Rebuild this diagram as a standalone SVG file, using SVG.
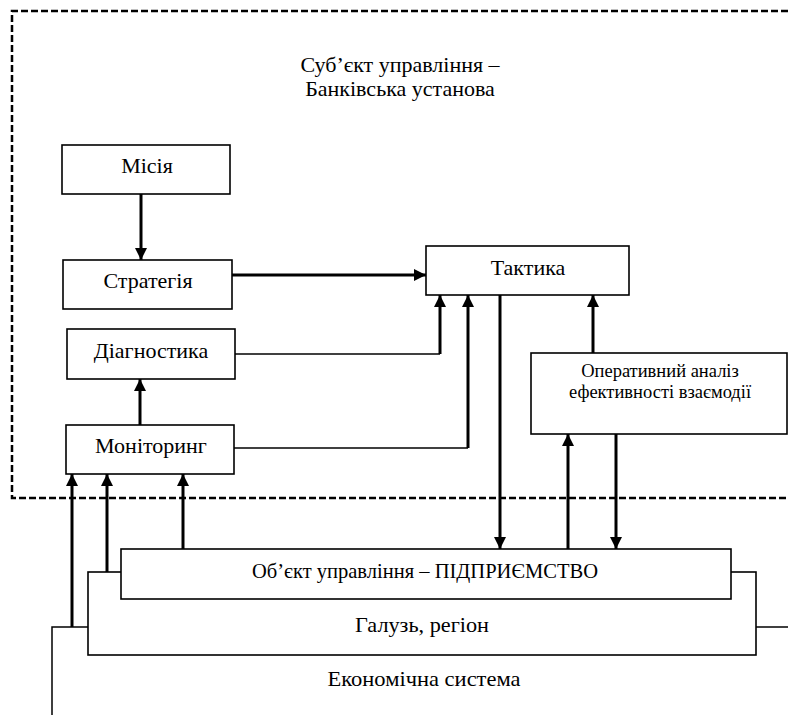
<svg xmlns="http://www.w3.org/2000/svg" width="788" height="715" viewBox="0 0 788 715">
<defs>
<marker id="ah" markerUnits="userSpaceOnUse" markerWidth="12" markerHeight="14" viewBox="0 0 12 14" refX="12" refY="7" orient="auto">
<path d="M0,1 L12,7 L0,13 Z" fill="#000"/>
</marker>
<style>
.box{fill:#fff;stroke:#000;stroke-width:1.6}
.t{fill:#000;text-anchor:middle}
.thick{fill:none;stroke:#000;stroke-width:3}
.thin{fill:none;stroke:#000;stroke-width:1.5}
.arr{marker-end:url(#ah)}
</style>
</defs>
<rect width="788" height="715" fill="#fff"/>
<g font-family="'Liberation Serif', 'DejaVu Serif', serif">
<g id="subject-border">
<path d="M788,11 H12 V498 H788" fill="none" stroke="#000" stroke-width="2.5" stroke-dasharray="7,3"/>
<text class="t" x="400" y="72" font-size="22">Суб’єкт управління –</text>
<text class="t" x="400" y="96" font-size="22">Банківська установа</text>
</g>
<g id="economy">
<path class="thin" d="M52,715 V627 H88"/>
<path class="thin" d="M756,627 H788"/>
<text class="t" x="424" y="686" font-size="21" textLength="193" lengthAdjust="spacingAndGlyphs">Економічна система</text>
</g>
<g id="galuz">
<rect class="box" x="88" y="572" width="668" height="83"/>
<text class="t" x="422" y="632" font-size="21" textLength="134" lengthAdjust="spacingAndGlyphs">Галузь, регіон</text>
</g>
<g id="object">
<rect class="box" x="121" y="549" width="610" height="50"/>
<text class="t" x="425" y="578" font-size="21" textLength="346" lengthAdjust="spacingAndGlyphs">Об’єкт управління – ПІДПРИЄМСТВО</text>
</g>
<g id="misiya">
<rect class="box" x="62" y="145" width="168" height="49"/>
<text class="t" x="147" y="173" font-size="22">Місія</text>
</g>
<g id="strategiya">
<rect class="box" x="63" y="260" width="169" height="49"/>
<text class="t" x="148" y="288" font-size="22">Стратегія</text>
</g>
<g id="taktyka">
<rect class="box" x="426" y="246" width="203" height="49"/>
<text class="t" x="528" y="275" font-size="22">Тактика</text>
</g>
<g id="diagnostyka">
<rect class="box" x="67" y="329" width="168" height="50"/>
<text class="t" x="151" y="358" font-size="22">Діагностика</text>
</g>
<g id="monitoryng">
<rect class="box" x="66" y="425" width="168" height="49"/>
<text class="t" x="151" y="453" font-size="22">Моніторинг</text>
</g>
<g id="operatyvnyi-analiz">
<rect class="box" x="531" y="353" width="256" height="81"/>
<text class="t" x="660" y="377" font-size="18.5">Оперативний аналіз</text>
<text class="t" x="660" y="398" font-size="18.5">ефективності взаємодії</text>
</g>
</g>
<g id="connectors">
<path class="thick arr" d="M141,194 V260"/>
<path class="thick arr" d="M232,275 H426"/>
<path class="thin" d="M235,354 H440"/>
<path class="thick arr" d="M440,354 V295"/>
<path class="thin" d="M234,448 H468"/>
<path class="thick arr" d="M468,448 V295"/>
<path class="thick arr" d="M140,425 V379"/>
<path class="thick arr" d="M593,353 V295"/>
<path class="thick arr" d="M500,295 V549"/>
<path class="thick arr" d="M568,549 V434"/>
<path class="thick arr" d="M616,434 V549"/>
<path class="thick arr" d="M72,627 V474"/>
<path class="thick arr" d="M107,572 V474"/>
<path class="thick arr" d="M183,549 V474"/>
</g>
</svg>
